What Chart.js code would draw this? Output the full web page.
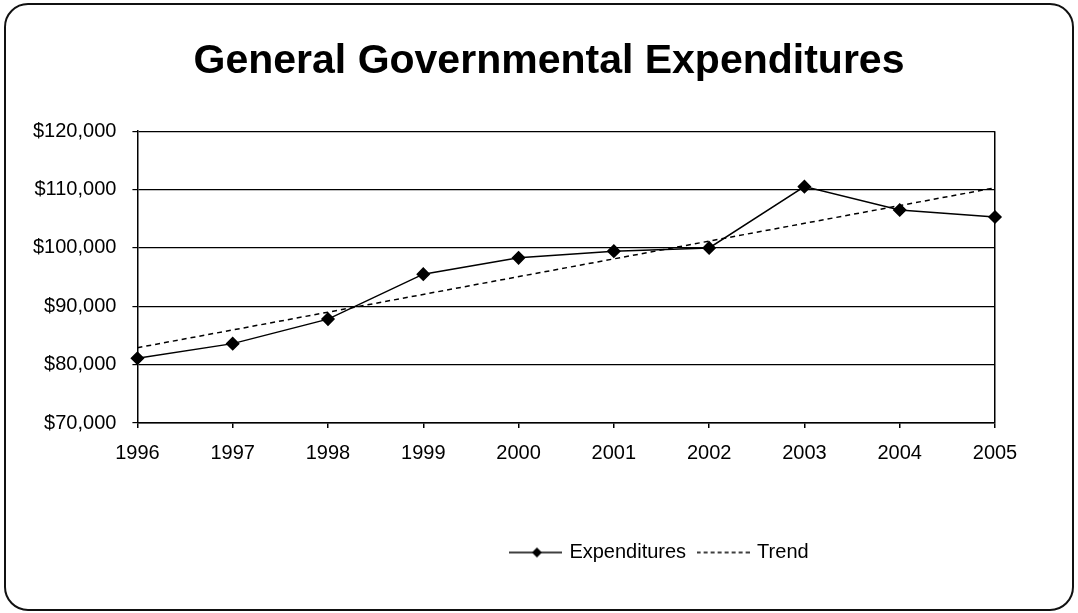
<!DOCTYPE html>
<html>
<head>
<meta charset="utf-8">
<script src="https://cdn.jsdelivr.net/npm/chart.js@4.4.1/dist/chart.umd.min.js"></script>
<style>
  html, body { margin: 0; padding: 0; background: #fff; }
  #wrap { position: relative; width: 1078px; height: 613px; }
  #frame { position: absolute; left: 4px; top: 3px; width: 1066px; height: 604px;
           border: 2px solid #111; border-radius: 24px; pointer-events: none; }
  canvas { display: block; }
</style>
</head>
<body>
<div id="wrap">
  <canvas id="c" width="1078" height="613"></canvas>
  <div id="frame"></div>
</div>
<script>
const titleText = 'General Governmental Expenditures';
const years = ['1996','1997','1998','1999','2000','2001','2002','2003','2004','2005'];
const expenditures = [81100, 83600, 87800, 95500, 98300, 99450, 100000, 110500, 106500, 105300];
// trend line: only its two end points
const trend = [82900, null, null, null, null, null, null, null, null, 110300];
const yTicks = [70000, 80000, 90000, 100000, 110000, 120000];

const FONT = "'Liberation Sans', Arial, Helvetica, sans-serif";

function legendIcon(dashed) {
  const cv = document.createElement('canvas');
  cv.width = 53; cv.height = 14;
  const g = cv.getContext('2d');
  g.strokeStyle = '#000';
  g.lineWidth = 1.5;
  if (dashed) g.setLineDash([4, 3]);
  g.beginPath(); g.moveTo(0, 7); g.lineTo(53, 7); g.stroke();
  if (!dashed) {
    g.setLineDash([]);
    g.fillStyle = '#000';
    g.beginPath();
    g.moveTo(28, 2); g.lineTo(33, 7); g.lineTo(28, 12); g.lineTo(23, 7); g.closePath();
    g.fill();
  }
  return cv;
}

const blockMover = {
  id: 'blockMover',
  afterLayout(chart) {
    const l = chart.legend;
    if (l) {
      const w = l.right - l.left, h = l.bottom - l.top;
      const cx = 660, cy = 551;
      l.left = cx - w / 2; l.right = l.left + w;
      l.top = cy - h / 2; l.bottom = l.top + h;
    }
    const t = chart.titleBlock;
    if (t) {
      const w = t.right - t.left;
      const cx = 549;
      t.left = cx - w / 2; t.right = t.left + w;
    }
  }
};

new Chart(document.getElementById('c'), {
  type: 'line',
  data: {
    labels: years,
    datasets: [
      {
        label: 'Expenditures',
        data: expenditures,
        borderColor: '#000',
        backgroundColor: '#000',
        borderWidth: 1.5,
        pointStyle: 'rectRot',
        pointRadius: 6,
        pointHoverRadius: 6,
        pointBackgroundColor: '#000',
        pointBorderColor: '#000',
        tension: 0,
        fill: false
      },
      {
        label: 'Trend',
        data: trend,
        borderColor: '#000',
        borderWidth: 1.5,
        borderDash: [5, 4],
        pointRadius: 0,
        spanGaps: true,
        tension: 0,
        fill: false
      }
    ]
  },
  options: {
    responsive: false,
    animation: false,
    devicePixelRatio: 1,
    layout: { padding: { left: 17, right: 83, top: 0, bottom: 92 } },
    plugins: {
      title: {
        display: true,
        text: titleText,
        color: '#000',
        font: { family: FONT, size: 41, weight: 'bold' },
        padding: { top: 37, bottom: 45 }
      },
      legend: {
        display: true,
        position: 'bottom',
        labels: {
          color: '#000',
          font: { family: FONT, size: 20 },
          usePointStyle: true,
          pointStyleWidth: 48,
          padding: 13,
          generateLabels(chart) {
            return chart.data.datasets.map((ds, i) => ({
              text: ds.label,
              pointStyle: legendIcon(i === 1),
              fillStyle: '#000',
              strokeStyle: '#000',
              lineWidth: 0,
              fontColor: '#000',
              hidden: false,
              datasetIndex: i
            }));
          }
        }
      },
      tooltip: { enabled: false }
    },
    scales: {
      x: {
        offset: false,
        border: { display: true, color: '#000', width: 1.5 },
        grid: {
          display: true,
          drawOnChartArea: true,
          color: (ctx) => (ctx.index === years.length - 1 ? '#000' : 'rgba(0,0,0,0)'),
          lineWidth: 1.5,
          tickColor: '#000',
          tickLength: 5
        },
        ticks: {
          color: '#000',
          font: { family: FONT, size: 20 },
          padding: 13,
          maxRotation: 0,
          autoSkip: false
        }
      },
      y: {
        min: yTicks[0],
        max: yTicks[yTicks.length - 1],
        border: { display: true, color: '#000', width: 1.5 },
        grid: {
          display: true,
          color: '#000',
          lineWidth: 1.2,
          tickColor: '#000',
          tickLength: 5
        },
        afterBuildTicks(scale) {
          scale.ticks = yTicks.map(v => ({ value: v }));
        },
        ticks: {
          color: '#000',
          font: { family: FONT, size: 20 },
          padding: 16,
          callback: (v) => '$' + Number(v).toLocaleString('en-US')
        }
      }
    }
  },
  plugins: [blockMover]
});
</script>
</body>
</html>
